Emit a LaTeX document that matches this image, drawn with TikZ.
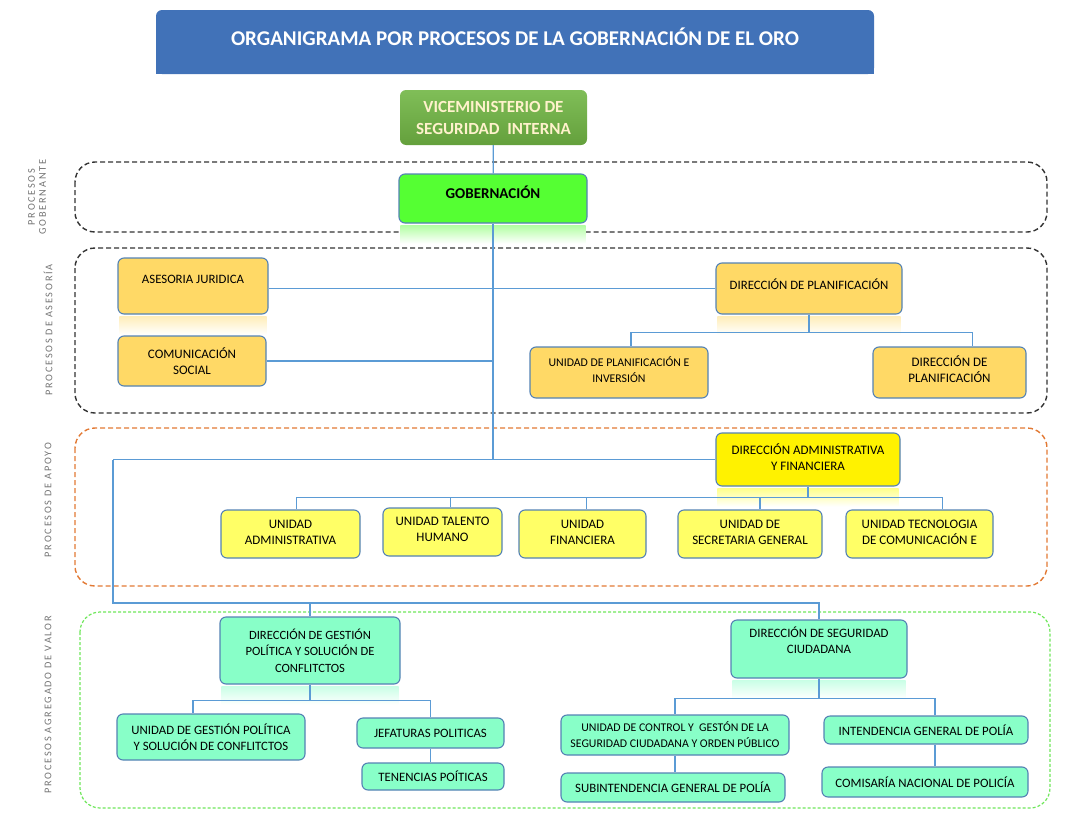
\documentclass[tikz,border=0pt]{standalone}
\usepackage{fontspec}
\setmainfont{Carlito}
\newfontfamily\lblfont[LetterSpace=17]{Carlito}
\usepackage{tikz}
\usetikzlibrary{positioning, calc}
\definecolor{titblue}{RGB}{65,114,184}
\definecolor{vicetop}{RGB}{128,190,88}
\definecolor{vicebot}{RGB}{100,160,60}
\definecolor{vicetxt}{RGB}{255,242,204}
\definecolor{gobgreen}{RGB}{85,255,51}
\definecolor{asegold}{RGB}{255,217,102}
\definecolor{apoyel}{RGB}{255,255,102}
\definecolor{valaqua}{RGB}{136,255,200}
\definecolor{lnblue}{RGB}{91,155,213}
\definecolor{bxedge}{RGB}{84,130,180}
\definecolor{frorange}{RGB}{226,121,52}
\definecolor{frgreen}{RGB}{110,230,90}

\begin{document}
\begin{tikzpicture}[x=1pt, y=-1pt,
  nd/.style={draw=bxedge, line width=1.1pt, fill=#1, rounded corners=6pt, align=center, font=\fontsize{12.8}{16}\selectfont, inner sep=2pt},
  sm/.style={font=\fontsize{11.8}{16}\selectfont},
  lg/.style={font=\fontsize{13}{16}\selectfont},
  lift/.style={text depth=#1},
  ln/.style={lnblue, line width=1.2pt},
  fr/.style={rounded corners=20pt, line width=1.4pt, dash pattern=on 5pt off 3pt},
  lbl/.style={rotate=90, black!55, font=\lblfont\fontsize{10.3}{11}\selectfont, align=center},
  refl/.style={top color=#1!45, bottom color=white, draw=none},
]
  \useasboundingbox (0,0) rectangle (1071,814);

  % process frames
  \draw[fr, black!80] (75,162) rectangle (1047,232);
  \draw[fr, black!80] (75,248) rectangle (1047,413);
  \draw[fr, frorange] (75,428) rectangle (1047,586);
  \draw[fr, frgreen, line width=1.2pt, dash pattern=on 3pt off 2pt] (80,612) rectangle (1050,808);

  \node[lbl] (lgob) at (37,197) {PROCESOS\\GOBERNANTE};
  \node[lbl] (lase) at (48,330) {PROCESOS DE ASESORÍA};
  \node[lbl] (lapo) at (48,500) {PROCESOS DE APOYO};
  \node[lbl] (lval) at (48,705) {PROCESOS AGREGADO DE VALOR};

  % title
  \fill[titblue] (156,42) rectangle (874,74);
  \node[fill=titblue, rounded corners=6pt, minimum width=718, minimum height=64, lift=10,
        text=white, font=\bfseries\fontsize{21}{24}\selectfont] (title) at (515,42)
        {ORGANIGRAMA POR PROCESOS DE LA GOBERNACIÓN DE EL ORO};

  \node[rounded corners=6pt, top color=vicetop, bottom color=vicebot, minimum width=187, minimum height=55,
        align=center, text=vicetxt, font=\bfseries\fontsize{17}{22}\selectfont] (vice) at (493.5,117.5)
        {VICEMINISTERIO DE\\SEGURIDAD~~INTERNA};
  \node[nd=gobgreen, minimum width=188, minimum height=49, lift=13, font=\bfseries\fontsize{15}{16}\selectfont] (gob) at (493,198.5) {GOBERNACIÓN};

  % asesoria
  \node[nd=asegold, minimum width=150, minimum height=56, lift=14] (aj) at (193,286) {ASESORIA JURIDICA};
  \node[nd=asegold, lg, minimum width=148, minimum height=50] (cs) at (192,361) {COMUNICACIÓN\\SOCIAL};
  \node[nd=asegold, minimum width=186, minimum height=51, lift=9] (dp) at (809,288.5) {DIRECCIÓN DE PLANIFICACIÓN};
  \node[nd=asegold, sm, minimum width=178, minimum height=51, lift=6] (upi) at (619,372.5) {UNIDAD DE PLANIFICACIÓN E\\INVERSIÓN};
  \node[nd=asegold, lg, minimum width=153, minimum height=51, lift=6] (dp2) at (949.5,372.5) {DIRECCIÓN DE\\PLANIFICACIÓN};

  % apoyo
  \node[nd=yellow, lg, minimum width=184, minimum height=53, lift=4] (da) at (808,459.5) {DIRECCIÓN ADMINISTRATIVA\\Y FINANCIERA};
  \node[nd=apoyel, lg, minimum width=139, minimum height=48, lift=4] (ua) at (290.5,534) {UNIDAD\\ADMINISTRATIVA};
  \node[nd=apoyel, lg, minimum width=119, minimum height=48, lift=6] (uth) at (442.5,532) {UNIDAD TALENTO\\HUMANO};
  \node[nd=apoyel, lg, minimum width=127, minimum height=48, lift=4] (uf) at (582.5,534) {UNIDAD\\FINANCIERA};
  \node[nd=apoyel, lg, minimum width=144, minimum height=48, lift=4] (usg) at (750,534) {UNIDAD DE\\SECRETARIA GENERAL};
  \node[nd=apoyel, lg, minimum width=147, minimum height=48, lift=4] (utc) at (919.5,534) {UNIDAD TECNOLOGIA\\DE COMUNICACIÓN E};

  % agregado de valor
  \node[nd=valaqua, minimum width=180, minimum height=67, font=\fontsize{12.6}{16.5}\selectfont] (dgp) at (310,650.5) {DIRECCIÓN DE GESTIÓN\\POLÍTICA Y SOLUCIÓN DE\\CONFLITCTOS};
  \node[nd=valaqua, minimum width=176, minimum height=58, lift=18] (dsc) at (819,649) {DIRECCIÓN DE SEGURIDAD\\CIUDADANA};
  \node[nd=valaqua, minimum width=188, minimum height=46] (ugp) at (211,737) {UNIDAD DE GESTIÓN POLÍTICA\\Y SOLUCIÓN DE CONFLITCTOS};
  \node[nd=valaqua, minimum width=147, minimum height=30] (jp) at (430.5,733) {JEFATURAS POLITICAS};
  \node[nd=valaqua, minimum width=142, minimum height=27] (tp) at (433,776.5) {TENENCIAS POÍTICAS};
  \node[nd=valaqua, sm, minimum width=228, minimum height=40] (ucg) at (675,735) {UNIDAD DE CONTROL Y~~GESTÓN DE LA\\SEGURIDAD CIUDADANA Y ORDEN PÚBLICO};
  \node[nd=valaqua, minimum width=204, minimum height=28] (ig) at (926,730) {INTENDENCIA GENERAL DE POLÍA};
  \node[nd=valaqua, minimum width=224, minimum height=29] (sg) at (673,787.5) {SUBINTENDENCIA GENERAL DE POLÍA};
  \node[nd=valaqua, minimum width=206, minimum height=30] (cn) at (925,782) {COMISARÍA NACIONAL DE POLICÍA};

  % reflections
  \foreach \n/\c in {gob/gobgreen, aj/asegold, dp/asegold, da/yellow, dgp/valaqua, dsc/valaqua}
    \shade[refl=\c] ($(\n.south west)+(2,2)$) rectangle ($(\n.south east)+(-2,20)$);

  % connectors
  \coordinate (jA) at (gob.south |- da.west);
  \coordinate (lft) at (113,459.5);
  \coordinate (lfb) at (113,603);
  \draw[ln] (vice) -- (gob);
  \draw[ln] (gob) -- (jA);
  \draw[ln] (aj.east |- dp.west) -- (dp.west);
  \draw[ln] (cs.east) -- (cs.east -| jA);
  \draw[ln] (dp.south) -- ++(0,18) coordinate (dpb);
  \draw[ln] (dpb) -| ([xshift=12]upi.north);
  \draw[ln] (dpb) -| ([xshift=23]dp2.north);
  \draw[ln] (lft) -- (da.west);
  \draw[ln] (lft) -- (lfb) -| (dgp.north);
  \draw[ln] (lfb) -| (dsc.north);
  \draw[ln] (da.south) -- ++(0,11) coordinate (dab);
  \foreach \n/\s in {ua/6, uth/8, uf/4, usg/10, utc/23}
    \draw[ln] (dab) -| ([xshift=\s]\n.north);
  \draw[ln] (dgp.south) -- ++(0,16) coordinate (dgb);
  \draw[ln] (dgb) -| ([xshift=-18]ugp.north);
  \draw[ln] (dgb) -| (jp.north);
  \draw[ln] (jp.south) -- (jp.south |- tp.north);
  \draw[ln] (dsc.south) -- ++(0,20) coordinate (dsb);
  \draw[ln] (dsb) -| (ucg.north);
  \draw[ln] (dsb) -| ([xshift=9]ig.north);
  \draw[ln] (ucg.south) -- (ucg.south |- sg.north);
  \draw[ln] ([xshift=9]ig.south) -- ([xshift=9]ig.south |- cn.north);
\end{tikzpicture}
\end{document}
